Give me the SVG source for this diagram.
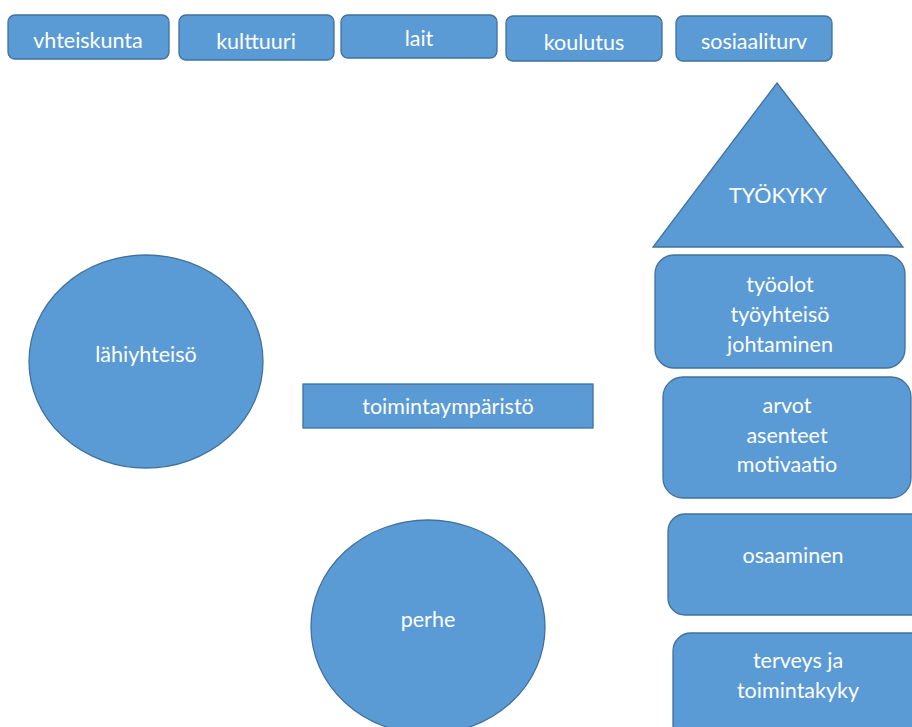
<svg xmlns="http://www.w3.org/2000/svg" width="912" height="727" viewBox="0 0 912 727">
<style>
.s{fill:#5B9BD5;stroke:#41719C;stroke-width:1.3}
.t{fill:#FFFFFF;font-family:Lato,"Open Sans",sans-serif;font-size:21.5px;text-anchor:middle}
</style>
<rect width="912" height="727" fill="#FFFFFF"/>
<g id="vhteiskunta"><rect class="s" x="8" y="15" width="161" height="44" rx="7"/><text class="t" x="88" y="48">vhteiskunta</text></g>
<g id="kulttuuri"><rect class="s" x="179" y="15" width="155" height="45" rx="7"/><text class="t" x="256" y="49">kulttuuri</text></g>
<g id="lait"><rect class="s" x="341" y="15" width="156" height="43" rx="7"/><text class="t" x="419" y="46">lait</text></g>
<g id="koulutus"><rect class="s" x="506" y="16" width="156" height="45" rx="7"/><text class="t" x="584" y="50">koulutus</text></g>
<g id="sosiaaliturv"><rect class="s" x="676" y="16" width="156" height="45" rx="7"/><text class="t" x="754" y="49">sosiaaliturv</text></g>
<g id="tyokyky"><polygon class="s" points="777,83 903,247 653,247"/><text class="t" x="778" y="203">TYÖKYKY</text></g>
<g id="tyoolot"><rect class="s" x="655" y="255" width="250" height="113" rx="19"/><text class="t" x="780" y="292">työolot</text><text class="t" x="780" y="322">työyhteisö</text><text class="t" x="780" y="352">johtaminen</text></g>
<g id="arvot"><rect class="s" x="663" y="377" width="248" height="121" rx="20"/><text class="t" x="787" y="413">arvot</text><text class="t" x="787" y="443">asenteet</text><text class="t" x="787" y="472">motivaatio</text></g>
<g id="osaaminen"><rect class="s" x="668" y="514" width="260" height="101" rx="17"/><text class="t" x="793" y="563">osaaminen</text></g>
<g id="terveys"><rect class="s" x="673" y="633" width="260" height="110" rx="18"/><text class="t" x="798" y="668">terveys ja</text><text class="t" x="798" y="698">toimintakyky</text></g>
<g id="lahiyhteiso"><ellipse class="s" cx="146" cy="361.5" rx="117" ry="106.5"/><text class="t" x="146" y="362">lähiyhteisö</text></g>
<g id="toimintaymparisto"><rect class="s" x="303" y="384" width="290" height="44"/><text class="t" x="448" y="414">toimintaympäristö</text></g>
<g id="perhe"><ellipse class="s" cx="428" cy="627" rx="117" ry="107"/><text class="t" x="428" y="627">perhe</text></g>
<g id="connectors"></g>
</svg>
